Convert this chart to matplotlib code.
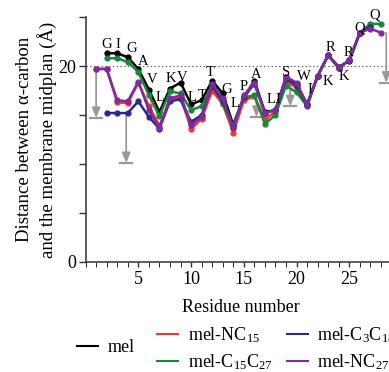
import numpy as np
import matplotlib
matplotlib.use('Agg')
import matplotlib.pyplot as plt
from matplotlib.lines import Line2D

plt.rcParams['font.family'] = ['Liberation Serif', 'DejaVu Serif']
plt.rcParams['mathtext.fontset'] = 'custom'
plt.rcParams['mathtext.rm'] = 'Liberation Serif'
plt.rcParams['mathtext.it'] = 'Liberation Serif:italic'

# distance of each residue's alpha-carbon from the membrane midplane (Å)
x_mel = list(range(2, 28))
mel = [21.3, 21.3, 20.9, 19.7, 17.6, 15.3, 17.7, 18.3, 16.1, 16.5, 18.5, 17.2, 14.0,
       16.8, 18.5, 15.3, 15.5, 18.9, 18.2, 16.1, 19.0, 21.1, 19.9, 20.5, 23.4, 24.1]

x_nc15 = list(range(1, 28))
nc15 = [19.7, 19.7, 16.3, 16.2, 18.3, 15.9, 13.9, 16.6, 16.8, 13.6, 14.6, 17.5, 16.1, 13.2,
        16.5, 16.9, 14.6, 15.3, 18.4, 17.8, 16.0, 19.0, 21.1, 19.8, 20.6, 23.4, 23.9]

x_c15c27 = list(range(2, 29))
c15c27 = [20.8, 20.8, 20.4, 19.4, 17.0, 14.9, 17.4, 17.2, 15.5, 15.9, 18.0, 16.2, 13.7,
          16.8, 17.0, 14.1, 15.0, 18.0, 17.3, 15.9, 19.0, 21.1, 19.8, 20.6, 23.4, 24.3, 24.3]

x_c3c18 = list(range(2, 28))
c3c18 = [15.2, 15.2, 15.2, 16.4, 14.8, 13.6, 16.4, 16.6, 14.3, 15.0, 18.0, 16.4, 14.0,
         16.8, 18.2, 15.2, 15.5, 18.7, 18.0, 16.0, 19.0, 21.1, 19.8, 20.6, 23.4, 24.0]

x_nc27 = list(range(1, 29))
nc27 = [19.7, 19.7, 16.5, 16.4, 18.4, 15.5, 13.7, 16.7, 17.0, 14.0, 14.8, 18.2, 16.7, 13.7,
        17.0, 18.3, 15.2, 15.5, 18.9, 18.3, 16.0, 19.0, 21.1, 19.8, 20.6, 23.4, 23.8, 23.4]

# residue letters and where they sit
res_letters = ['G', 'I', 'G', 'A', 'V', 'L', 'K', 'V', 'L', 'T', 'T', 'G', 'L',
               'P', 'A', 'L', 'I', 'S', 'W', 'I', 'K', 'R', 'K', 'R', 'Q', 'Q']
res_lx = [2.0, 3.05, 4.4, 5.5, 6.3, 7.1, 8.1, 9.2, 10.1, 11.1, 11.8, 13.4, 14.2,
          15.0, 16.2, 17.6, 18.2, 19.0, 20.7, 21.3, 23.0, 23.2, 24.5, 24.9, 26.0, 27.4]
res_ly = [22.2, 22.2, 21.8, 20.5, 18.6, 16.8, 18.7, 18.8, 16.8, 17.0, 19.3, 17.6, 16.2,
          17.9, 19.1, 16.6, 16.6, 19.3, 18.9, 17.6, 18.4, 21.9, 18.9, 21.4, 23.9, 25.2]

# shifts (x, from, to)
arr_x = [1.0, 3.85, 16.2, 19.4, 28.5]
arr_from = [19.7, 15.0, 16.8, 18.3, 23.4]
arr_to = [14.7, 10.1, 14.8, 15.9, 18.3]

fig = plt.figure(figsize=(3.89, 3.72), dpi=100)
ax = fig.add_axes([0.22, 0.2957, 0.80, 0.6586])

ax.axhline(20, color='#555555', ls=(0, (1.2, 2.2)), lw=0.8, zorder=1)

series = [
    (x_mel, mel, '#000000', 'mel'),
    (x_nc15, nc15, '#ff3030', r'mel-NC$_{15}$'),
    (x_c15c27, c15c27, '#17883a', r'mel-C$_{15}$C$_{27}$'),
    (x_c3c18, c3c18, '#2b2a8c', r'mel-C$_{3}$C$_{18}$'),
    (x_nc27, nc27, '#7b2d9b', r'mel-NC$_{27}$'),
]
for xs, ys, c, lab in series:
    ax.plot(xs, ys, color=c, lw=1.8, marker='o', ms=3.5, zorder=3)

for xa, y0, y1 in zip(arr_x, arr_from, arr_to):
    ax.annotate('', xy=(xa, y1), xytext=(xa, y0),
                arrowprops=dict(arrowstyle='-|>,head_length=0.6,head_width=0.25',
                                color='#999999', lw=1.3, shrinkA=0, shrinkB=0), zorder=2)
    ax.plot([xa - 0.55, xa + 0.55], [y1, y1], color='#999999', lw=1.6, zorder=2)

for t, lx, ly in zip(res_letters, res_lx, res_ly):
    ax.text(lx, ly, t, ha='center', va='center', fontsize=10.5, zorder=4)

ax.set_xlim(0, 29.5)
ax.set_ylim(0, 25)
ax.set_xticks([5, 10, 15, 20, 25])
ax.set_xticks(np.arange(0, 30, 1), minor=True)
ax.set_yticks([0, 5, 10, 15, 20, 25])
ax.set_yticklabels(['0', '', '', '', '20', ''])
ax.tick_params(axis='both', labelsize=13, color='#333333', width=1.0)
ax.tick_params(axis='y', length=5, pad=2)
ax.tick_params(axis='x', which='both', length=3.5, pad=3)
for s in ['top', 'right']:
    ax.spines[s].set_visible(False)
for s in ['left', 'bottom']:
    ax.spines[s].set_color('#333333')
    ax.spines[s].set_linewidth(1.1)

ax.set_xlabel('Residue number', fontsize=13, labelpad=8)
ax.set_ylabel('Distance between α-carbon\nand the membrane midplan (Å)', fontsize=13.5,
              labelpad=1, linespacing=1.25)

h = [Line2D([], [], color=c, lw=1.5) for _, _, c, _ in series]
labs = [lab for _, _, _, lab in series]
fig.legend([h[0]], [labs[0]], loc='center left', bbox_to_anchor=(77 / 389, 1 - 348 / 372),
           frameon=False, fontsize=13, handlelength=1.15, handletextpad=0.55,
           borderpad=0, borderaxespad=0)
fig.legend([h[1], h[2], h[3], h[4]], [labs[1], labs[2], labs[3], labs[4]], ncol=2,
           loc='center left', bbox_to_anchor=(157 / 389, 1 - 349 / 372),
           frameon=False, fontsize=13, handlelength=1.15, handletextpad=0.55,
           columnspacing=0.8, labelspacing=0.4, borderpad=0, borderaxespad=0)

fig.savefig('out.png', dpi=100)
